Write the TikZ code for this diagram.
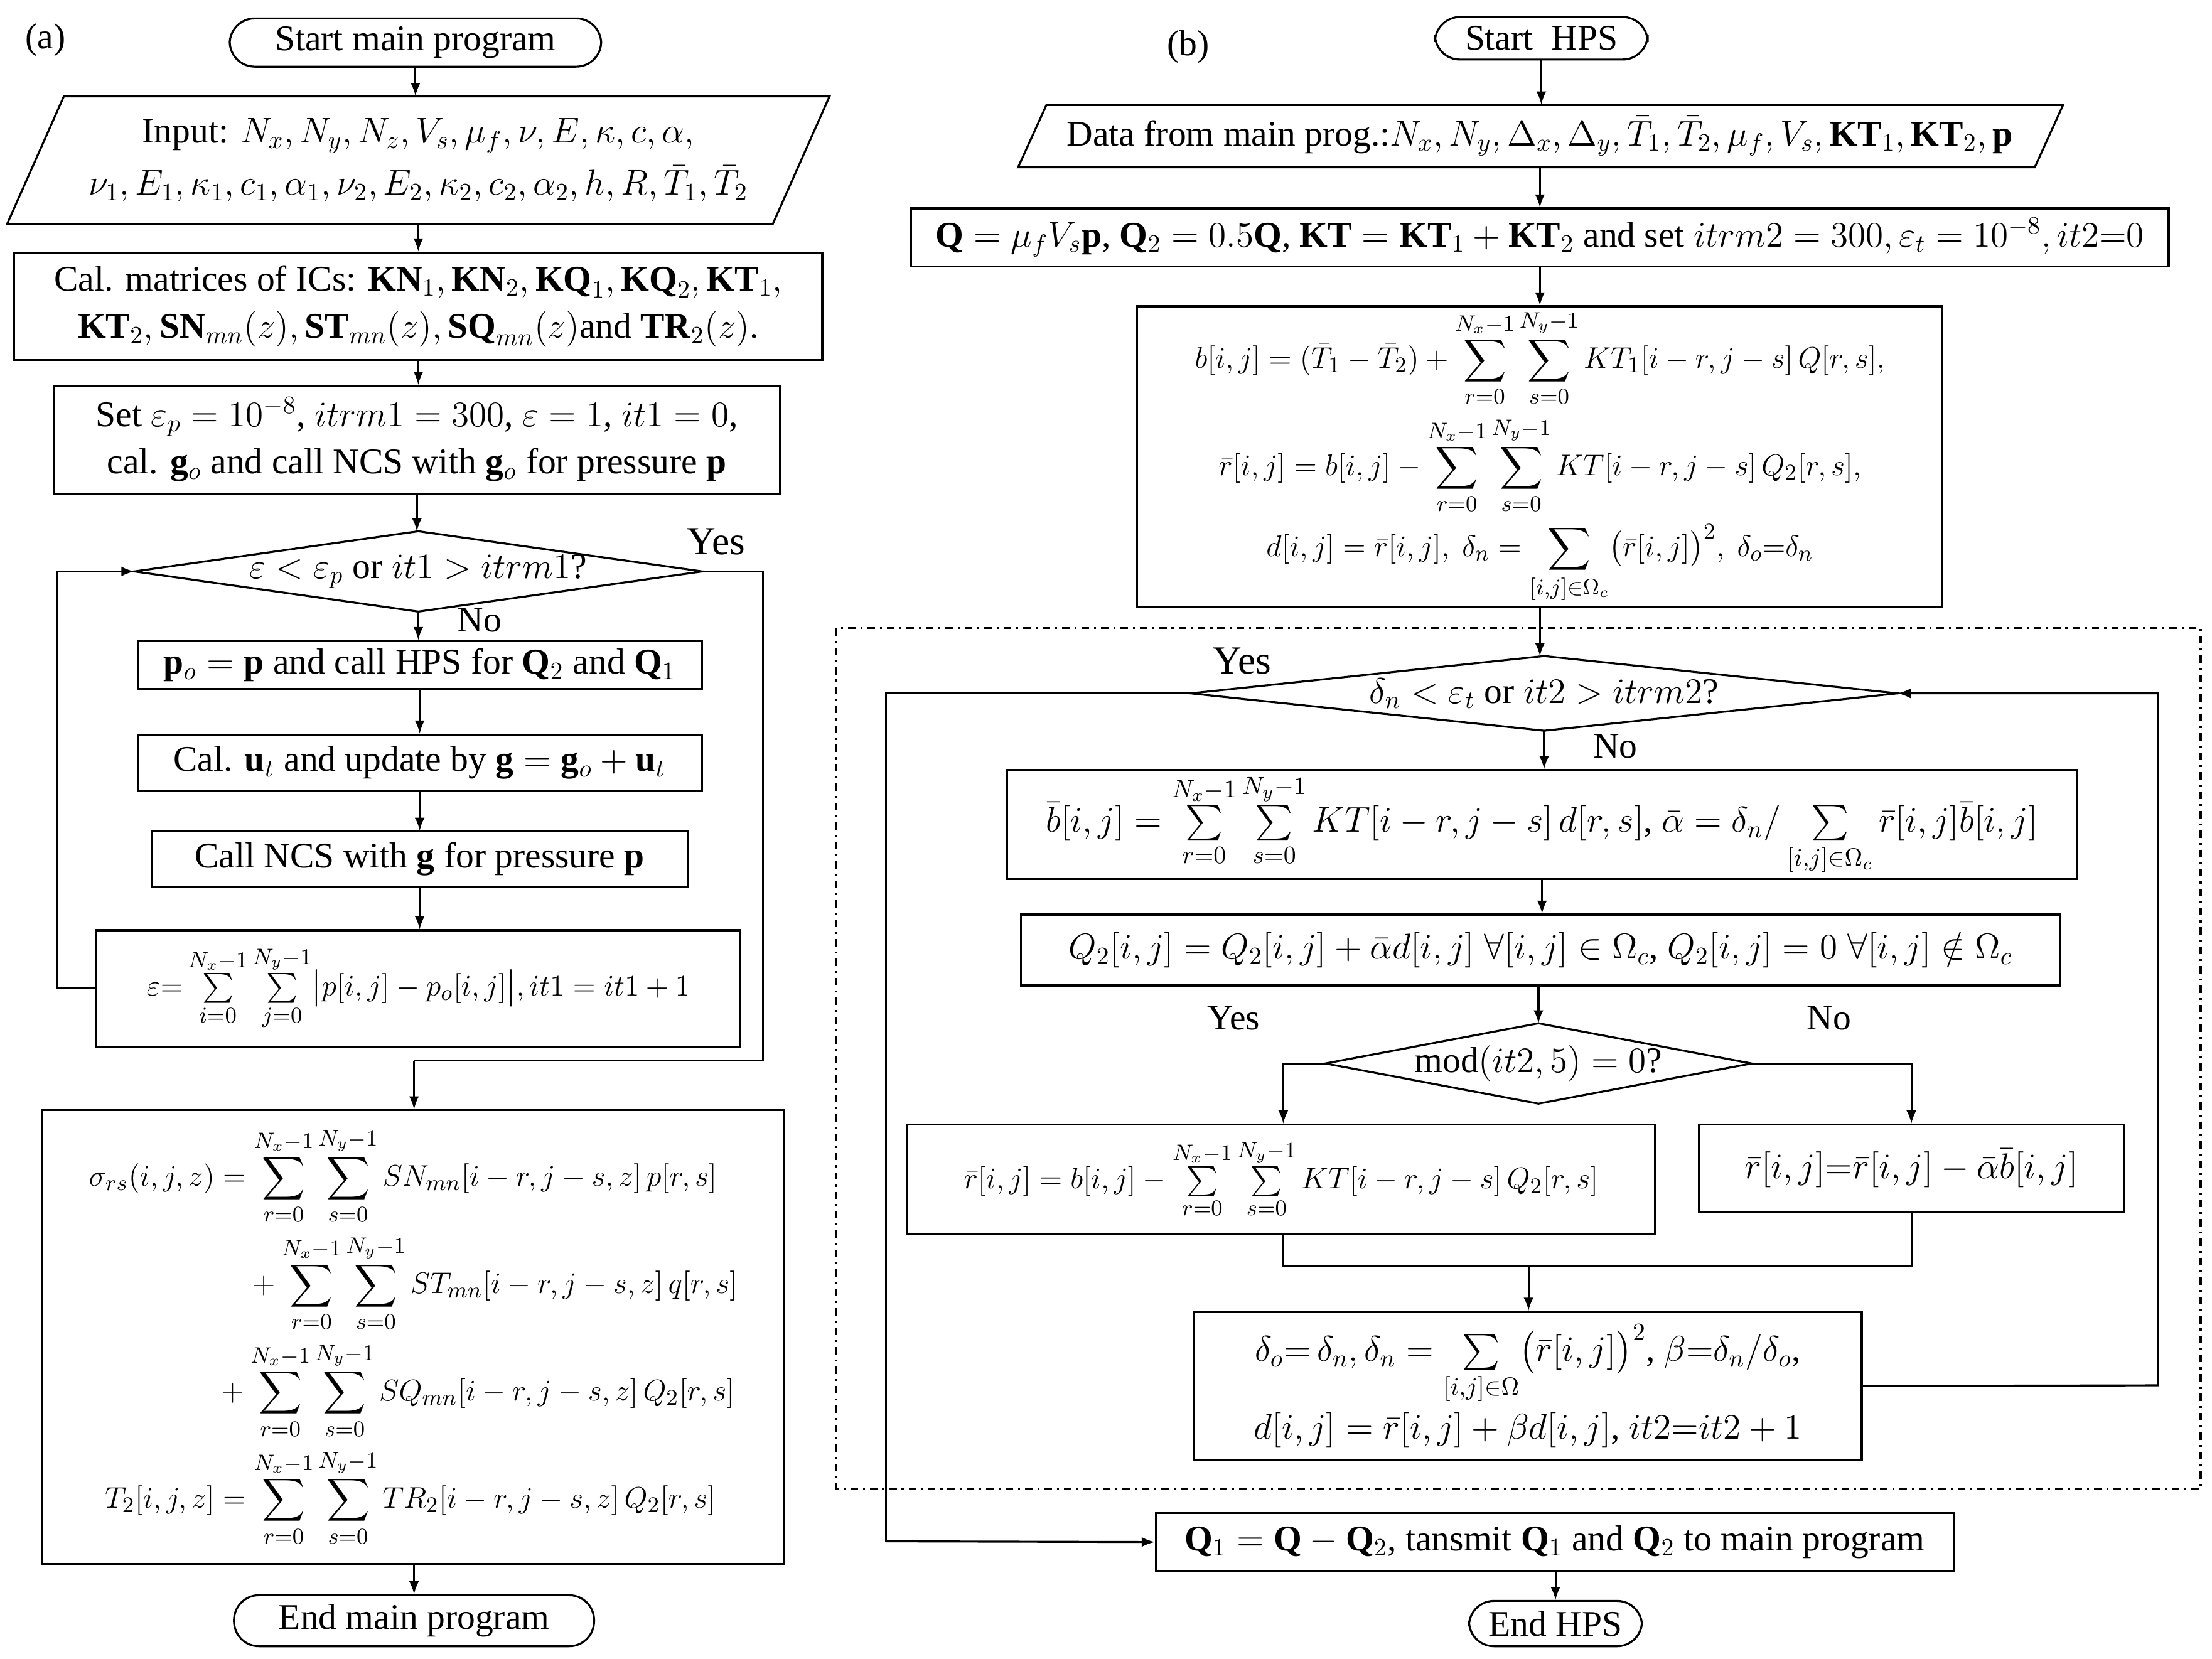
\documentclass[tikz,border=0pt]{standalone}
\usepackage{amsmath}
\usepackage{fontspec}
\setmainfont{Liberation Serif}
\usetikzlibrary{arrows,positioning}

\begin{document}
\begin{tikzpicture}
		[x=0.02cm,y=-0.02cm,>=latex,
		every node/.style={font=\fontsize{14.5}{17}\selectfont},
		box/.style={draw,thick,rectangle,align=center,inner sep=1pt},
		sumbox/.style={box,font=\fontsize{12.5}{15}\selectfont},
		term/.style={draw,thick,rounded corners=10pt,align=center,inner sep=1pt},
		hidden/.style={draw=none,align=center,inner sep=0pt},
		line/.style={thick},
		flow/.style={thick,->}]
		\useasboundingbox (0,0) rectangle (1560,1170);
		
		% (a) main program
		\node at (32,28) {(a)};
		\node[term,minimum width=5.24cm,minimum height=0.68cm] (start) at (293,30) {Start main program};
		\node[hidden,minimum width=11.6cm,minimum height=1.8cm] (inp) at (295,113)
		{Input: $N_x, N_y, N_z, V_s, \mu_f, \nu, E, \kappa, c, \alpha,$\\[4pt]
			$\nu_1, E_1, \kappa_1, c_1, \alpha_1, \nu_2, E_2, \kappa_2, c_2, \alpha_2, h, R, \bar T_1, \bar T_2$};
		\draw[line] (5,158) -- (45,68) -- (585,68) -- (545,158) -- cycle;
		\node[box,minimum width=11.4cm,minimum height=1.52cm] (cal) at (295,216)
		{Cal. matrices of ICs: $\mathbf{KN}_1, \mathbf{KN}_2, \mathbf{KQ}_1, \mathbf{KQ}_2, \mathbf{KT}_1,$\\[2pt]
			$\mathbf{KT}_2, \mathbf{SN}_{mn}(z), \mathbf{ST}_{mn}(z), \mathbf{SQ}_{mn}(z)$and $\mathbf{TR}_2(z)$.};
		\node[box,minimum width=10.24cm,minimum height=1.52cm] (set) at (294,310)
		{Set $\varepsilon_p=10^{-8}$, $itrm1=300$, $\varepsilon=1$, $it1=0$,\\[2pt]
			cal. $\mathbf g_o$ and call NCS with $\mathbf g_o$ for pressure $\mathbf p$};
		\node[hidden,minimum width=8cm,minimum height=1.12cm] (d1) at (295,403) {$\varepsilon<\varepsilon_p$ or $it1>itrm1$?};
		\draw[line] (d1.west) -- (d1.north) -- (d1.east) -- (d1.south) -- cycle;
		\node[box,minimum width=7.96cm,minimum height=0.68cm] (po) at (296,469)
		{$\mathbf p_o=\mathbf p$ and call HPS for $\mathbf Q_2$ and $\mathbf Q_1$};
		\node[box,minimum width=7.96cm,minimum height=0.8cm] (ut) at (296,538)
		{Cal. $\mathbf u_t$ and update by $\mathbf g=\mathbf g_o+\mathbf u_t$};
		\node[box,minimum width=7.56cm,minimum height=0.78cm] (ncs) at (296,606)
		{Call NCS with $\mathbf g$ for pressure $\mathbf p$};
		\node[sumbox,minimum width=9.08cm,minimum height=1.64cm] (eps) at (295,697)
		{$\varepsilon{=}\sum\limits_{i=0}^{N_x-1}\sum\limits_{j=0}^{N_y-1}\bigl|p[i,j]-p_o[i,j]\bigr|, it1=it1+1$};
		\node[sumbox,minimum width=10.46cm,minimum height=6.4cm] (big) at (291.5,943)
		{$\begin{aligned}
				\sigma_{rs}(i,j,z)&=\sum\limits_{r=0}^{N_x-1}\sum\limits_{s=0}^{N_y-1}SN_{mn}[i-r,j-s,z]\,p[r,s]\\
				&\quad+\sum\limits_{r=0}^{N_x-1}\sum\limits_{s=0}^{N_y-1}ST_{mn}[i-r,j-s,z]\,q[r,s]\\
				&+\sum\limits_{r=0}^{N_x-1}\sum\limits_{s=0}^{N_y-1}SQ_{mn}[i-r,j-s,z]\,Q_2[r,s]\\
				T_2[i,j,z]&=\sum\limits_{r=0}^{N_x-1}\sum\limits_{s=0}^{N_y-1}TR_2[i-r,j-s,z]\,Q_2[r,s]
			\end{aligned}$};
		\node[term,minimum width=5.08cm,minimum height=0.72cm] (end) at (292,1143) {End main program};
		
		\coordinate (la) at (40,697);
		\coordinate (lb) at (40,403);
		\coordinate (ya) at (538,403);
		\coordinate (yb) at (538,748);
		\coordinate (yc) at (292,748);
		\draw[flow] (start) -- (start.south |- inp.north);
		\draw[flow] (inp.south) -- (inp.south |- cal.north);
		\draw[flow] (cal.south) -- (cal.south |- set.north);
		\draw[flow] (set.south) -- (set.south |- d1.north);
		\draw[flow] (d1.south) -- (d1.south |- po.north) node[pos=0.3,right=12pt] {No};
		\draw[flow] (po) -- (po.south |- ut.north);
		\draw[flow] (ut) -- (ut.south |- ncs.north);
		\draw[flow] (ncs) -- (ncs.south |- eps.north);
		\draw[flow] (eps.west) -- (la) -- (lb) -- (d1.west);
		\draw[line] (d1.east) -- (ya) -- (yb) -- (yc);
		\draw[flow] (yc) -- (yc |- big.north);
		\node at (505,382) {\fontsize{16}{19}\selectfont Yes};
		\draw[flow] (big.south -| end) -- (end);
		
		% (b) HPS
		\node at (838,33) {(b)};
		\node[term,minimum width=3cm,minimum height=0.6cm] (shps) at (1087,27) {Start~ HPS};
		\node[hidden,minimum width=14.74cm,minimum height=0.88cm] (data) at (1086,96)
		{Data from main prog.:$N_x, N_y, \Delta_x, \Delta_y, \bar T_1, \bar T_2, \mu_f, V_s, \mathbf{KT}_1, \mathbf{KT}_2, \mathbf p$};
		\draw[line] (718,118) -- (738,74) -- (1455,74) -- (1435,118) -- cycle;
		\node[box,minimum width=17.74cm,minimum height=0.82cm] (q) at (1086,167.5)
		{$\mathbf Q=\mu_f V_s\mathbf p$, $\mathbf Q_2=0.5\mathbf Q$, $\mathbf{KT}=\mathbf{KT}_1+\mathbf{KT}_2$ and set $itrm2=300, \varepsilon_t=10^{-8}, it2{=}0$};
		\node[sumbox,minimum width=11.36cm,minimum height=4.24cm] (bb) at (1086,322)
		{$\begin{gathered}
				b[i,j]=(\bar T_1-\bar T_2)+\sum\limits_{r=0}^{N_x-1}\sum\limits_{s=0}^{N_y-1}KT_1[i-r,j-s]\,Q[r,s],\\
				\bar r[i,j]=b[i,j]-\sum\limits_{r=0}^{N_x-1}\sum\limits_{s=0}^{N_y-1}KT[i-r,j-s]\,Q_2[r,s],\\
				d[i,j]=\bar r[i,j],\ \delta_n=\sum\limits_{[i,j]\in\Omega_c}\bigl(\bar r[i,j]\bigr)^2,\ \delta_o{=}\delta_n
			\end{gathered}$};
		\draw[thick,dash dot] (590,443) rectangle (1552,1050);
		\node[hidden,minimum width=9.96cm,minimum height=1.04cm] (d2) at (1089,489) {$\delta_n<\varepsilon_t$ or $it2>itrm2$?};
		\draw[line] (d2.west) -- (d2.north) -- (d2.east) -- (d2.south) -- cycle;
		\node[box,minimum width=15.1cm,minimum height=1.54cm] (bbar) at (1087.5,581.5)
		{$\bar b[i,j]=\sum\limits_{r=0}^{N_x-1}\sum\limits_{s=0}^{N_y-1}KT[i-r,j-s]\,d[r,s]$, $\bar\alpha=\delta_n/\sum\limits_{[i,j]\in\Omega_c}\bar r[i,j]\bar b[i,j]$};
		\node[box,minimum width=14.66cm,minimum height=1cm] (q2) at (1086.5,670)
		{$Q_2[i,j]=Q_2[i,j]+\bar\alpha d[i,j]\;\forall[i,j]\in\Omega_c$, $Q_2[i,j]=0\;\forall[i,j]\notin\Omega_c$};
		\node[hidden,minimum width=6cm,minimum height=1.12cm] (d3) at (1085,750) {$\mathrm{mod}(it2,5)=0$?};
		\draw[line] (d3.west) -- (d3.north) -- (d3.east) -- (d3.south) -- cycle;
		\node[sumbox,minimum width=10.54cm,minimum height=1.54cm] (rl) at (903.5,831.5)
		{$\bar r[i,j]=b[i,j]-\sum\limits_{r=0}^{N_x-1}\sum\limits_{s=0}^{N_y-1}KT[i-r,j-s]\,Q_2[r,s]$};
		\node[box,minimum width=6cm,minimum height=1.24cm] (rr) at (1348,824)
		{$\bar r[i,j]{=}\bar r[i,j]-\bar\alpha\bar b[i,j]$};
		\node[box,minimum width=9.42cm,minimum height=2.1cm] (dl) at (1077.5,977.5)
		{$\delta_o{=}\,\delta_n, \delta_n=\sum\limits_{[i,j]\in\Omega}\bigl(\bar r[i,j]\bigr)^2$, $\beta{=}\delta_n/\delta_o$,\\[2pt]
			$d[i,j]=\bar r[i,j]+\beta d[i,j]$, $it2{=}it2+1$};
		\node[box,minimum width=11.26cm,minimum height=0.82cm] (q1) at (1096.5,1087.5)
		{$\mathbf Q_1=\mathbf Q-\mathbf Q_2$, tansmit $\mathbf Q_1$ and $\mathbf Q_2$ to main program};
		\node[term,minimum width=2.44cm,minimum height=0.64cm] (ehps) at (1097,1145) {End HPS};
		
		\coordinate (ra) at (1522,977);
		\coordinate (rb) at (1522,489);
		\coordinate (ya2) at (625,489);
		\coordinate (yb2) at (625,1087);
		\coordinate (ml) at (905,750);
		\coordinate (mr) at (1348,750);
		\coordinate (jl) at (905,893);
		\coordinate (jr) at (1348,893);
		\coordinate (jm) at (1078,893);
		\draw[flow] (shps) -- (shps.south |- data.north);
		\draw[flow] (data.south) -- (data.south |- q.north);
		\draw[flow] (q.south) -- (q.south |- bb.north);
		\draw[flow] (bb.south) -- (bb.south |- d2.north);
		\draw[flow] (d2.south) -- (d2.south |- bbar.north) node[pos=0.4,right=16pt] {No};
		\draw[flow] (bbar) -- (bbar.south |- q2.north);
		\draw[flow] (q2.south -| d3) -- (d3.north);
		\draw[flow] (dl.east) -- (ra) -- (rb) -- (d2.east);
		\draw[line] (d2.west) -- (ya2) -- (yb2);
		\draw[flow] (yb2) -- (q1.west);
		\node at (876,466) {\fontsize{16}{19}\selectfont Yes};
		\draw[flow] (d3.west) -- (ml) -- (ml |- rl.north);
		\draw[flow] (d3.east) -- (mr) -- (rr.north);
		\node at (870,718) {Yes};
		\node at (1290,718) {No};
		\draw[line] (rl.south -| jl) -- (jl) -- (jr) -- (rr.south);
		\draw[flow] (jm) -- (jm |- dl.north);
		\draw[flow] (q1.south -| ehps) -- (ehps);
		\end{tikzpicture}
\end{document}
